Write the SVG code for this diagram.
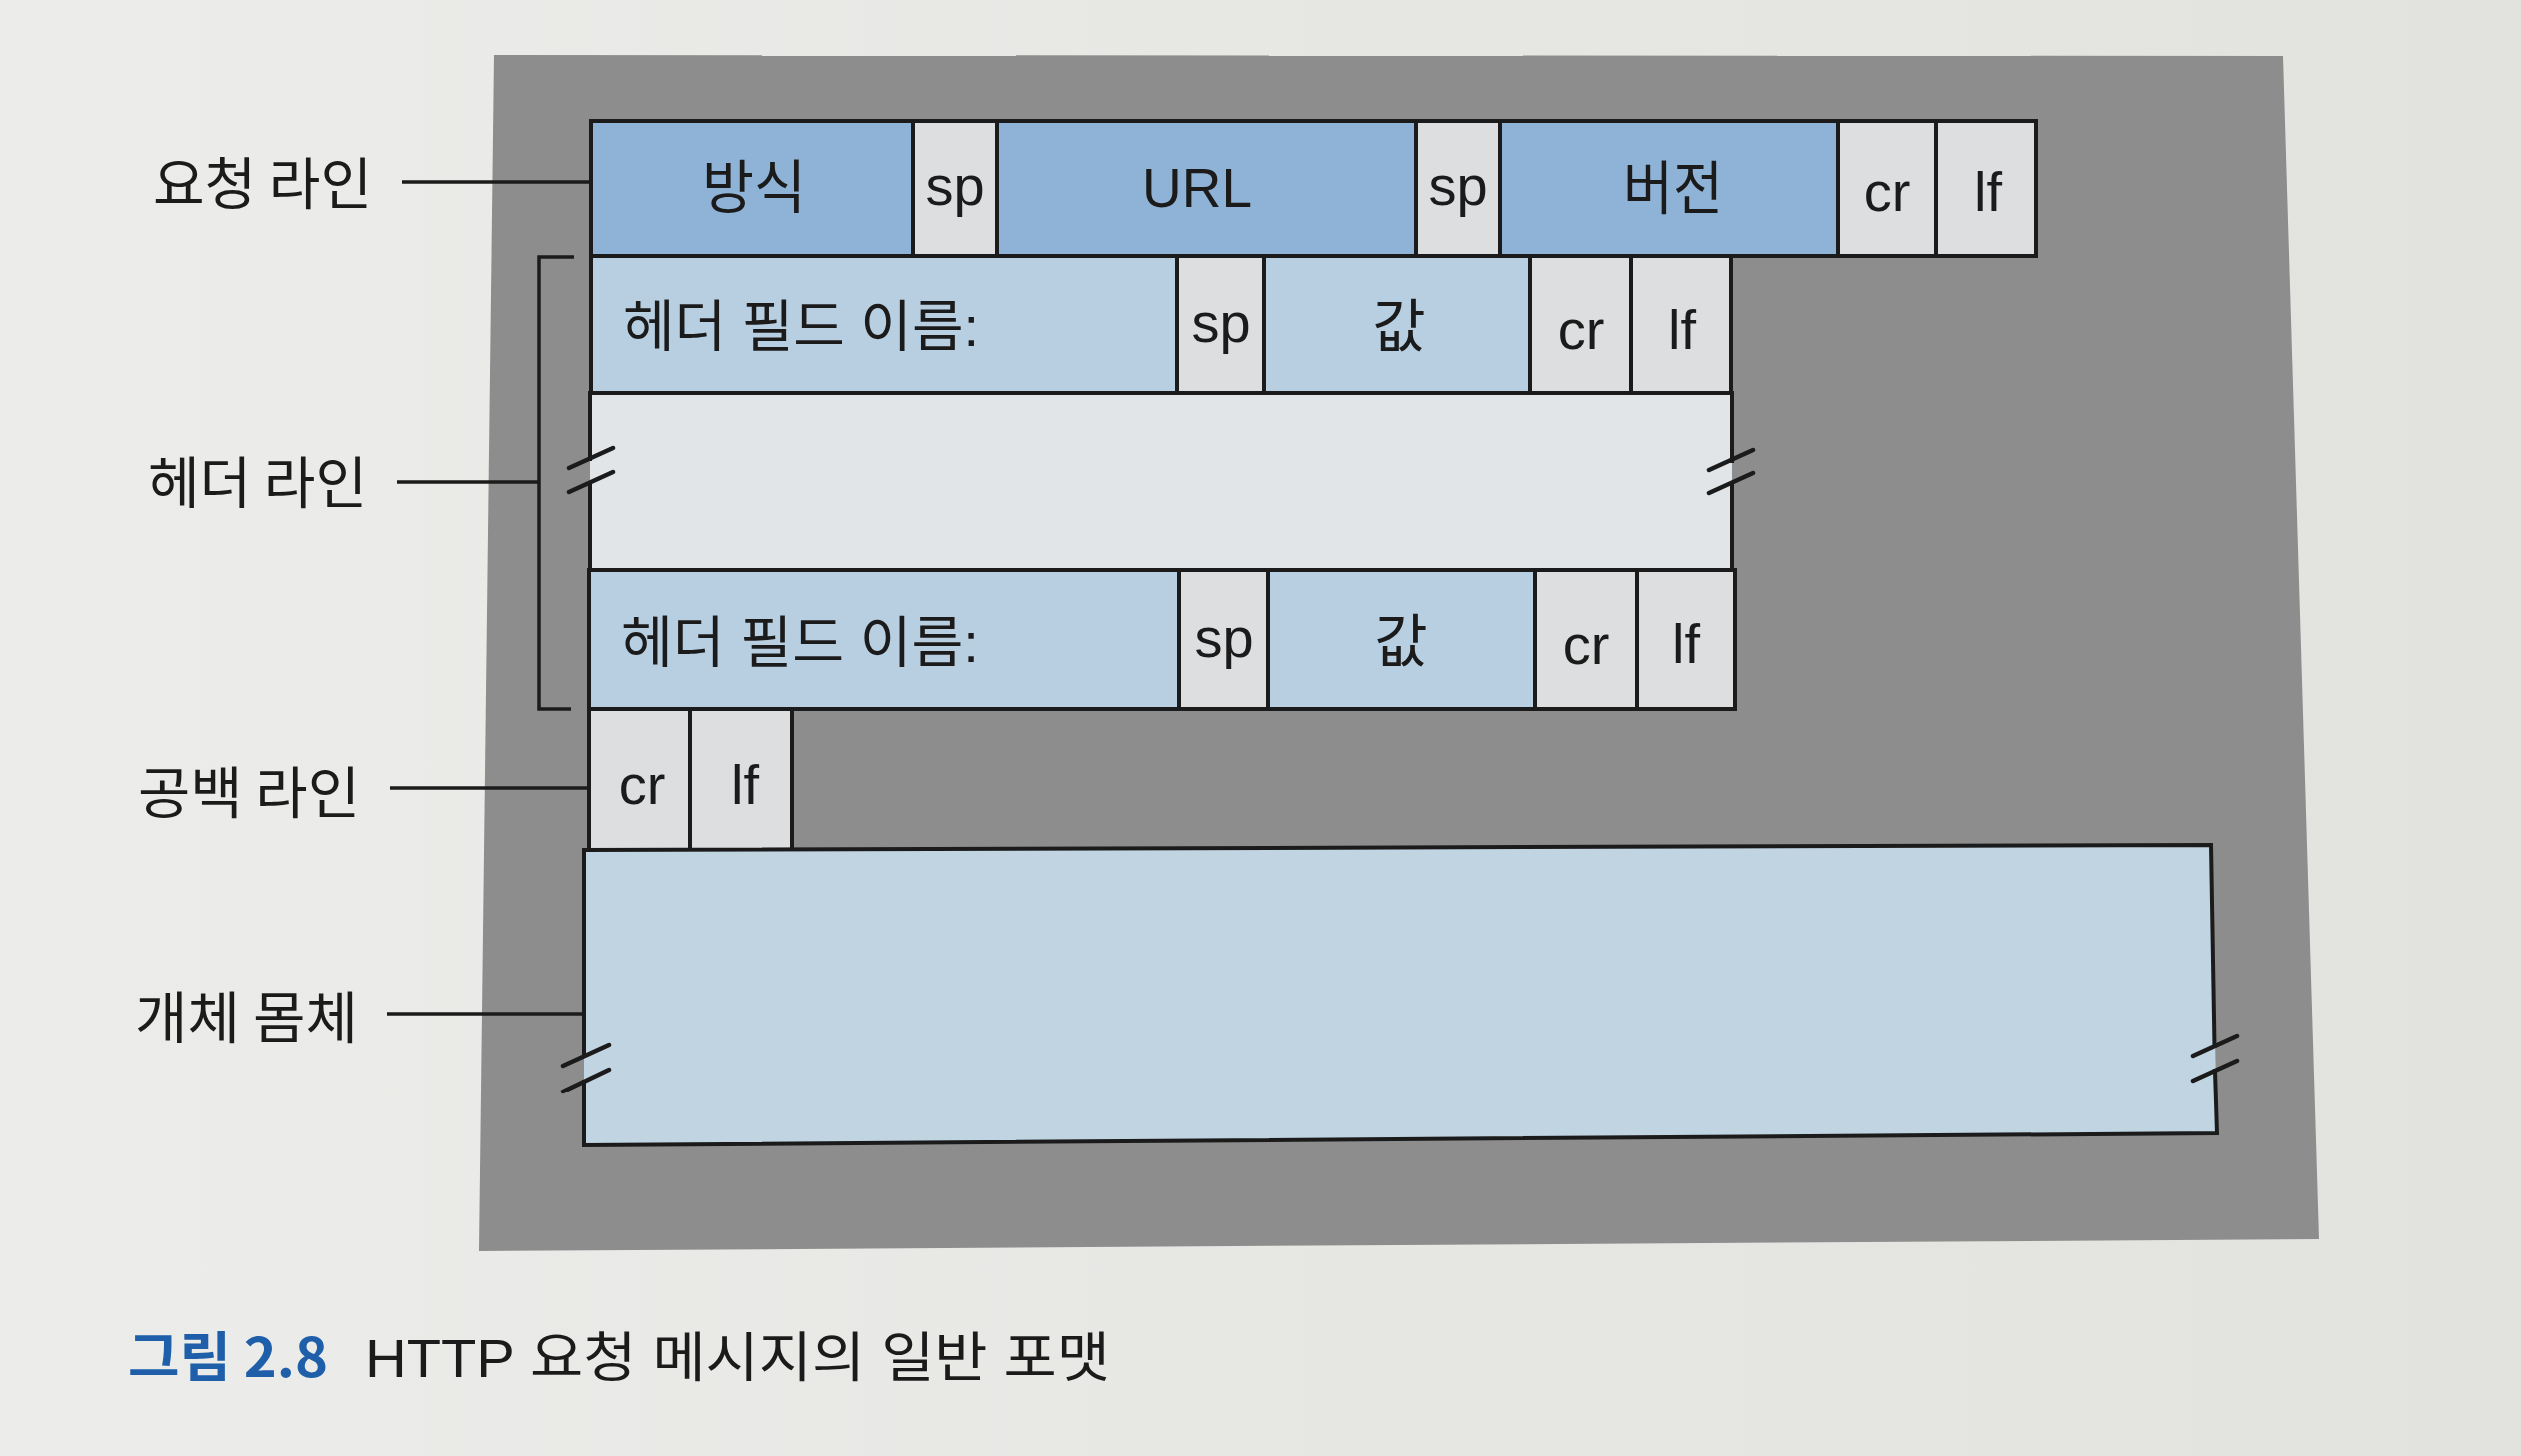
<svg xmlns="http://www.w3.org/2000/svg" width="2524" height="1458" viewBox="0 0 2524 1458">
<defs>
<style>
.ln{stroke:#1b1b1b;stroke-width:4;fill:none;stroke-linecap:square}
.thin{stroke:#1b1b1b;stroke-width:3.5;fill:none}
.brk{stroke:#1b1b1b;stroke-width:4.5;fill:none;stroke-linecap:round}
.blue{fill:#8fb3d6;stroke:#1b1b1b;stroke-width:4}
.lblue{fill:#b8cfe2;stroke:#1b1b1b;stroke-width:4}
.pale{fill:#dcdedf;stroke:#1b1b1b;stroke-width:4}
.t{font-family:'Liberation Sans','Noto Sans CJK KR',sans-serif;fill:#1b1b1b;font-size:56px;text-anchor:middle}
.k{font-family:'Noto Sans CJK KR',sans-serif;fill:#1b1b1b;font-size:58px;text-anchor:middle}
.tl{font-family:'Liberation Sans','Noto Sans CJK KR',sans-serif;fill:#1b1b1b;font-size:56px}
.lab{font-family:'Noto Sans CJK KR','Liberation Sans',sans-serif;fill:#1b1b1b;font-size:56px}
</style>
<linearGradient id="page" x1="0" y1="0" x2="1" y2="0">
<stop offset="0" stop-color="#ececea"/>
<stop offset="1" stop-color="#e2e2df"/>
</linearGradient>
</defs>
<rect x="0" y="0" width="2524" height="1458" fill="url(#page)"/>
<polygon id="backdrop" points="495,55 2286,56 2322,1241 480,1253" fill="#8d8d8d"/>

<g id="request-line">
<rect class="blue" x="592" y="121" width="322" height="135"/>
<rect class="pale" x="914" y="121" width="84" height="135"/>
<rect class="blue" x="998" y="121" width="420" height="135"/>
<rect class="pale" x="1418" y="121" width="84" height="135"/>
<rect class="blue" x="1502" y="121" width="338" height="135"/>
<rect class="pale" x="1840" y="121" width="98" height="135"/>
<rect class="pale" x="1938" y="121" width="100" height="135"/>
<text class="k" x="755" y="208" textLength="104" lengthAdjust="spacingAndGlyphs">방식</text>
<text class="t" x="956" y="205">sp</text>
<text class="t" x="1198" y="207" textLength="110" lengthAdjust="spacingAndGlyphs">URL</text>
<text class="t" x="1460" y="205">sp</text>
<text class="k" x="1675" y="209" textLength="100" lengthAdjust="spacingAndGlyphs">버전</text>
<text class="t" x="1889" y="211">cr</text>
<text class="t" x="1990" y="211">lf</text>
</g>

<g id="header-line-1">
<rect class="lblue" x="592" y="256" width="586" height="138"/>
<rect class="pale" x="1178" y="256" width="88" height="138"/>
<rect class="lblue" x="1266" y="256" width="266" height="138"/>
<rect class="pale" x="1532" y="256" width="101" height="138"/>
<rect class="pale" x="1633" y="256" width="100" height="138"/>
<text class="tl" x="624" y="346" textLength="356" lengthAdjust="spacingAndGlyphs">헤더 필드 이름:</text>
<text class="t" x="1222" y="342">sp</text>
<text class="k" x="1401" y="347">값</text>
<text class="t" x="1583" y="349">cr</text>
<text class="t" x="1684" y="349">lf</text>
</g>

<g id="header-gap">
<rect x="591" y="394" width="1143" height="177" fill="#e2e5e7"/>
<path class="ln" d="M591,394 H1734 M591,571 H1734 M591,394 V460 M591,484 V571 M1734,394 V462 M1734,484 V571"/>
<path class="brk" d="M570,469 L614,449 M570,493 L614,473 M1711,471 L1755,451 M1711,494 L1755,474"/>
</g>

<g id="header-line-2">
<rect class="lblue" x="590" y="571" width="590" height="139"/>
<rect class="pale" x="1180" y="571" width="90" height="139"/>
<rect class="lblue" x="1270" y="571" width="267" height="139"/>
<rect class="pale" x="1537" y="571" width="102" height="139"/>
<rect class="pale" x="1639" y="571" width="98" height="139"/>
<text class="tl" x="622" y="663" textLength="358" lengthAdjust="spacingAndGlyphs">헤더 필드 이름:</text>
<text class="t" x="1225" y="658">sp</text>
<text class="k" x="1403" y="663">값</text>
<text class="t" x="1588" y="665">cr</text>
<text class="t" x="1688" y="664">lf</text>
</g>

<g id="blank-line">
<rect class="pale" x="590" y="710" width="101" height="141"/>
<rect class="pale" x="691" y="710" width="102" height="141"/>
<text class="t" x="643" y="805">cr</text>
<text class="t" x="746" y="805">lf</text>
</g>

<g id="entity-body">
<polygon points="585,851 2214,846 2220,1135 585,1147" fill="#c0d4e2"/>
<path class="ln" d="M585,1057 L585,851 L2214,846 L2217.5,1047 M2218,1072 L2220,1135 L585,1147 L585,1083"/>
<path class="brk" d="M564,1067 L610,1046 M564,1093 L610,1071 M2196,1057 L2240,1037 M2196,1082 L2240,1062"/>
</g>

<g id="connectors">
<path class="thin" d="M402,182 H592"/>
<path class="thin" d="M397,483 H540"/>
<path class="thin" d="M575,257 H540 V710 H572"/>
<path class="thin" d="M390,789 H590"/>
<path class="thin" d="M387,1015 H585"/>
</g>

<g id="labels">
<text class="lab" x="153" y="204" textLength="219" lengthAdjust="spacingAndGlyphs">요청 라인</text>
<text class="lab" x="148" y="504" textLength="219" lengthAdjust="spacingAndGlyphs">헤더 라인</text>
<text class="lab" x="138" y="814" textLength="222" lengthAdjust="spacingAndGlyphs">공백 라인</text>
<text class="lab" x="135" y="1039" textLength="223" lengthAdjust="spacingAndGlyphs">개체 몸체</text>
</g>

<g id="caption">
<text x="128" y="1379" font-family="'Noto Sans CJK KR','Liberation Sans',sans-serif" font-size="54" font-weight="bold" fill="#1f5ea8" textLength="200" lengthAdjust="spacingAndGlyphs">그림 2.8</text>
<text x="365" y="1379" font-family="'Liberation Sans','Noto Sans CJK KR',sans-serif" font-size="54" fill="#1b1b1b" textLength="746" lengthAdjust="spacingAndGlyphs">HTTP 요청 메시지의 일반 포맷</text>
</g>
</svg>
